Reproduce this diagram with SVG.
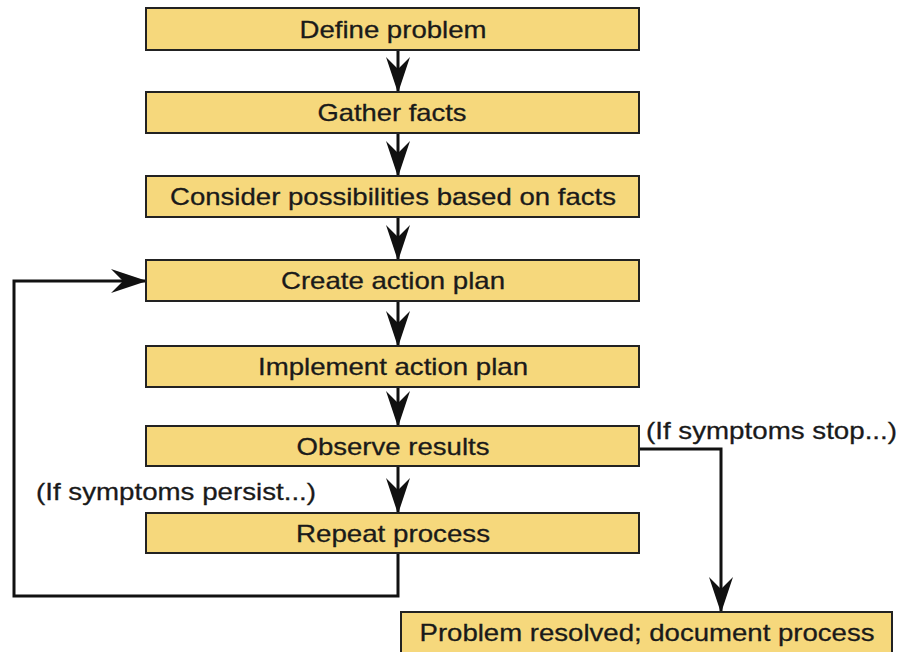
<svg xmlns="http://www.w3.org/2000/svg" width="898" height="652" viewBox="0 0 898 652">
<defs>
<marker id="ah" viewBox="0 0 36 24" refX="35" refY="12" markerWidth="36" markerHeight="24" markerUnits="userSpaceOnUse" orient="auto">
<path d="M0,0 L36,12 L0,24 L12,12 Z" fill="#111"/>
</marker>
<style>
.box{fill:#F6D87C;stroke:#222;stroke-width:2}
.t{font-family:"Liberation Sans",Arial,sans-serif;font-size:24px;fill:#1a1a1a;stroke:#1a1a1a;stroke-width:0.3;text-anchor:middle}
.l{font-family:"Liberation Sans",Arial,sans-serif;font-size:24px;fill:#1a1a1a;stroke:#1a1a1a;stroke-width:0.3}
.c{fill:none;stroke:#111;stroke-width:3;marker-end:url(#ah)}
</style>
</defs>
<rect width="898" height="652" fill="#fff"/>
<g id="connectors">
<path class="c" d="M398,50 V92"/>
<path class="c" d="M398,133 V176"/>
<path class="c" d="M398,217 V260"/>
<path class="c" d="M398,301 V346"/>
<path class="c" d="M398,387 V426"/>
<path class="c" d="M398,466 V513"/>
<path class="c" d="M398,553 V596 H14 V281 H146"/>
<path class="c" d="M639,449 H721 V612"/>
</g>
<g id="n1"><rect class="box" x="146" y="8" width="493" height="42"/><text class="t" x="393" y="38" textLength="187" lengthAdjust="spacingAndGlyphs">Define problem</text></g>
<g id="n2"><rect class="box" x="146" y="92" width="493" height="41"/><text class="t" x="392" y="121" textLength="149" lengthAdjust="spacingAndGlyphs">Gather facts</text></g>
<g id="n3"><rect class="box" x="146" y="176" width="493" height="41"/><text class="t" x="393" y="205" textLength="446" lengthAdjust="spacingAndGlyphs">Consider possibilities based on facts</text></g>
<g id="n4"><rect class="box" x="146" y="260" width="493" height="41"/><text class="t" x="393" y="289" textLength="224" lengthAdjust="spacingAndGlyphs">Create action plan</text></g>
<g id="n5"><rect class="box" x="146" y="346" width="493" height="41"/><text class="t" x="393" y="375" textLength="270" lengthAdjust="spacingAndGlyphs">Implement action plan</text></g>
<g id="n6"><rect class="box" x="146" y="426" width="493" height="40"/><text class="t" x="393" y="455" textLength="193" lengthAdjust="spacingAndGlyphs">Observe results</text></g>
<g id="n7"><rect class="box" x="146" y="513" width="493" height="40"/><text class="t" x="393" y="542" textLength="194" lengthAdjust="spacingAndGlyphs">Repeat process</text></g>
<g id="n8"><rect class="box" x="401" y="612" width="491" height="42"/><text class="t" x="647" y="641" textLength="455" lengthAdjust="spacingAndGlyphs">Problem resolved; document process</text></g>
<g id="labels">
<text class="l" x="646" y="439" textLength="251" lengthAdjust="spacingAndGlyphs">(If symptoms stop...)</text>
<text class="l" x="36" y="500" textLength="280" lengthAdjust="spacingAndGlyphs">(If symptoms persist...)</text>
</g>
</svg>
